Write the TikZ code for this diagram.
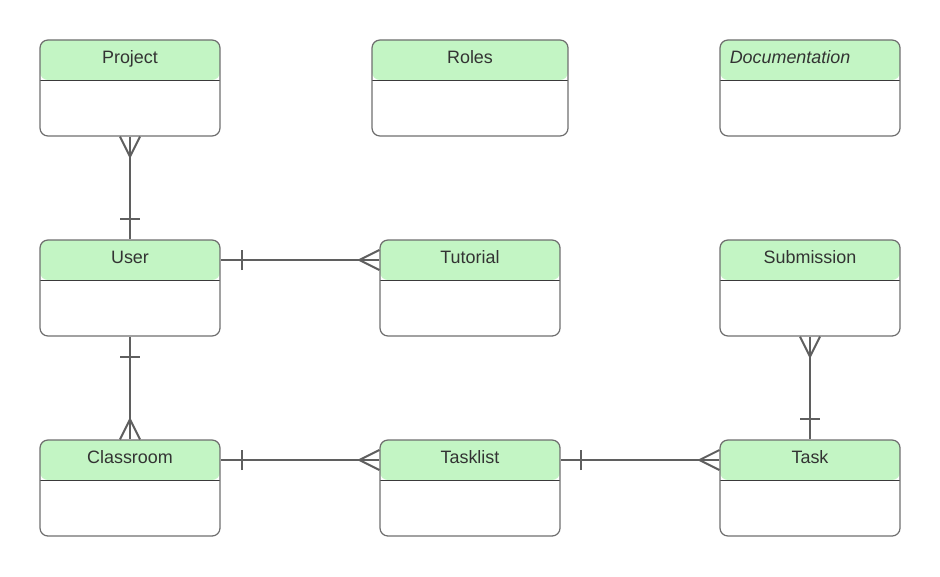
\documentclass[tikz,border=0pt]{standalone}
\usepackage{fontspec}
\setmainfont{Liberation Sans}
\definecolor{hdr}{HTML}{C3F5C4}
\definecolor{boxline}{HTML}{6E6E6E}
\definecolor{divline}{HTML}{3A3A3A}
\definecolor{conn}{HTML}{5F5F5F}
\definecolor{txt}{HTML}{333333}
\tikzset{
  entity/.style={draw=boxline, line width=0.7pt, rounded corners=4.5pt,
    minimum width=3.6cm, minimum height=1.92cm, inner sep=0pt,
    path picture={
      \fill[hdr] (path picture bounding box.north west) rectangle ([yshift=-0.8cm]path picture bounding box.north east);
      \draw[divline, line width=0.5pt] ([yshift=-0.8cm]path picture bounding box.north west) -- ([yshift=-0.8cm]path picture bounding box.north east);
    }},
  title/.style={font=\fontsize{10.2}{12}\selectfont, text=txt, inner sep=0pt, anchor=base},
  rel/.style={draw=conn, line width=1.1pt},
}
\begin{document}
\begin{tikzpicture}
\useasboundingbox (0,0) rectangle (18.8,-11.52);
% entities
\node[entity] (project) at (2.6,-1.76) {};
\node[entity, minimum width=3.92cm] (roles) at (9.4,-1.76) {};
\node[entity] (doc) at (16.2,-1.76) {};
\node[entity] (user) at (2.6,-5.76) {};
\node[entity] (tutorial) at (9.4,-5.76) {};
\node[entity] (submission) at (16.2,-5.76) {};
\node[entity] (classroom) at (2.6,-9.76) {};
\node[entity] (tasklist) at (9.4,-9.76) {};
\node[entity] (task) at (16.2,-9.76) {};
% titles
\node[title] (tproject) at ([yshift=-0.48cm]project.north) {Project};
\node[title] (troles) at ([yshift=-0.48cm]roles.north) {Roles};
\node[title, anchor=base west, font=\fontsize{10.2}{12}\selectfont\itshape] (tdoc) at ([xshift=0.2cm,yshift=-0.48cm]doc.north west) {Documentation};
\node[title] (tuser) at ([yshift=-0.48cm]user.north) {User};
\node[title] (ttutorial) at ([yshift=-0.48cm]tutorial.north) {Tutorial};
\node[title] (tsubmission) at ([yshift=-0.48cm]submission.north) {Submission};
\node[title] (tclassroom) at ([yshift=-0.48cm]classroom.north) {Classroom};
\node[title] (ttasklist) at ([yshift=-0.48cm]tasklist.north) {Tasklist};
\node[title] (ttask) at ([yshift=-0.48cm]task.north) {Task};
% Project -- User
\draw[rel] (project.south) -- (user.north);
\draw[rel] ([yshift=-0.4cm]project.south) -- ([xshift=-0.2cm]project.south)
           ([yshift=-0.4cm]project.south) -- ([xshift=0.2cm]project.south);
\draw[rel] ([xshift=-0.2cm,yshift=0.4cm]user.north) -- ([xshift=0.2cm,yshift=0.4cm]user.north);
% User -- Tutorial
\coordinate (ue) at ([yshift=0.56cm]user.east);
\coordinate (tw) at ([yshift=0.56cm]tutorial.west);
\draw[rel] (ue) -- (tw);
\draw[rel] ([xshift=0.42cm,yshift=-0.2cm]ue) -- ([xshift=0.42cm,yshift=0.2cm]ue);
\draw[rel] ([xshift=-0.4cm]tw) -- ([yshift=0.2cm]tw) ([xshift=-0.4cm]tw) -- ([yshift=-0.2cm]tw);
% User -- Classroom
\draw[rel] (user.south) -- (classroom.north);
\draw[rel] ([xshift=-0.2cm,yshift=-0.4cm]user.south) -- ([xshift=0.2cm,yshift=-0.4cm]user.south);
\draw[rel] ([yshift=0.4cm]classroom.north) -- ([xshift=-0.2cm]classroom.north)
           ([yshift=0.4cm]classroom.north) -- ([xshift=0.2cm]classroom.north);
% Classroom -- Tasklist
\coordinate (ce) at ([yshift=0.56cm]classroom.east);
\coordinate (tlw) at ([yshift=0.56cm]tasklist.west);
\draw[rel] (ce) -- (tlw);
\draw[rel] ([xshift=0.42cm,yshift=-0.2cm]ce) -- ([xshift=0.42cm,yshift=0.2cm]ce);
\draw[rel] ([xshift=-0.4cm]tlw) -- ([yshift=0.2cm]tlw) ([xshift=-0.4cm]tlw) -- ([yshift=-0.2cm]tlw);
% Tasklist -- Task
\coordinate (tle) at ([yshift=0.56cm]tasklist.east);
\coordinate (tkw) at ([yshift=0.56cm]task.west);
\draw[rel] (tle) -- (tkw);
\draw[rel] ([xshift=0.4cm,yshift=-0.2cm]tle) -- ([xshift=0.4cm,yshift=0.2cm]tle);
\draw[rel] ([xshift=-0.4cm]tkw) -- ([yshift=0.2cm]tkw) ([xshift=-0.4cm]tkw) -- ([yshift=-0.2cm]tkw);
% Submission -- Task
\draw[rel] (submission.south) -- (task.north);
\draw[rel] ([yshift=-0.4cm]submission.south) -- ([xshift=-0.2cm]submission.south)
           ([yshift=-0.4cm]submission.south) -- ([xshift=0.2cm]submission.south);
\draw[rel] ([xshift=-0.2cm,yshift=0.4cm]task.north) -- ([xshift=0.2cm,yshift=0.4cm]task.north);
\end{tikzpicture}
\end{document}
